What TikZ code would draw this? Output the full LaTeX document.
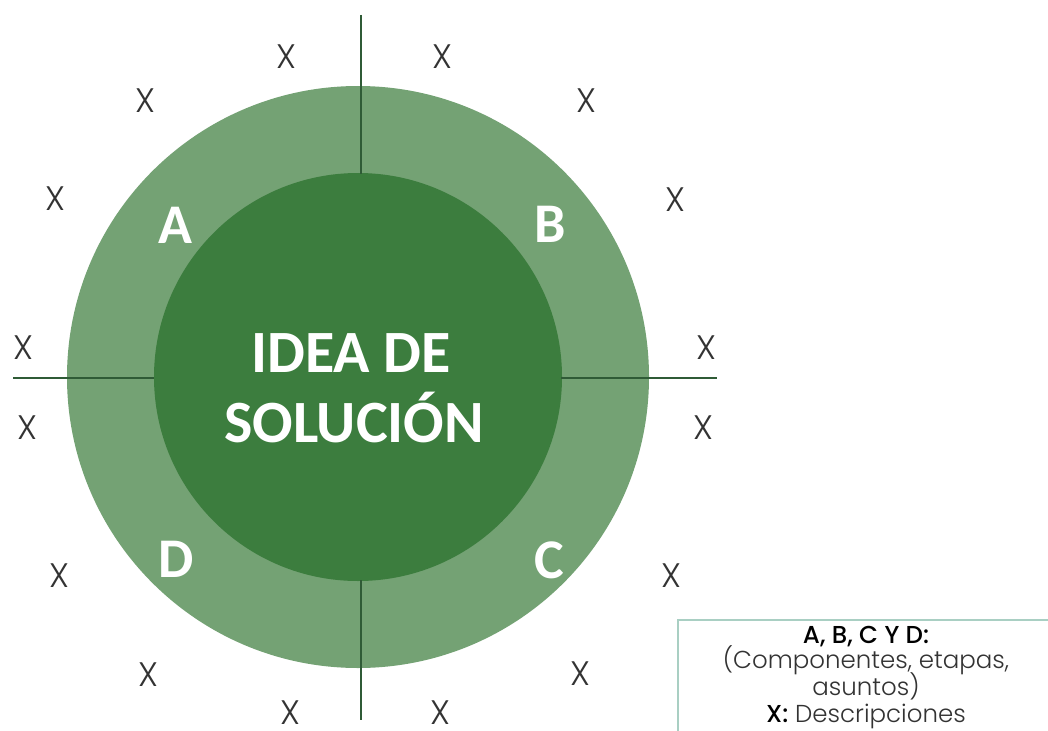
\documentclass[tikz,border=0pt]{standalone}
\usepackage{fontspec}
\setmainfont{Poppins}
\newfontfamily\carl{Carlito}
\newfontfamily\plight{Poppins Light}
\newfontfamily\pmed{Poppins Medium}
\definecolor{ring}{HTML}{74A274}
\definecolor{core}{HTML}{3C7D3E}
\definecolor{axis}{HTML}{2F5B36}
\definecolor{legendline}{HTML}{A9CFC3}
\definecolor{xcol}{HTML}{333333}
\tikzset{
  disc/.style={circle,inner sep=0pt,draw=none},
  axisline/.style={draw=axis,line width=1.6pt},
  xmark/.style={inner sep=0pt,text=xcol,font=\plight\fontsize{34}{34}\selectfont},
  seglabel/.style={inner sep=0pt,anchor=base,text=white,font=\carl\bfseries\fontsize{56}{60}\selectfont},
  titletext/.style={inner sep=0pt,anchor=base,text=white,font=\carl\bfseries\fontsize{60}{70}\selectfont},
  legtext/.style={inner sep=0pt,anchor=base,text=xcol,font=\plight\fontsize{24.5}{27}\selectfont},
}
\begin{document}
\begin{tikzpicture}[x=1pt,y=-1pt]
\useasboundingbox (0,0) rectangle (1048,730);
\node[disc,fill=ring,minimum size=582pt] (outer) at (358,377) {};
\node[disc,fill=core,minimum size=408pt] (inner) at (358,377) {};
% axes
\coordinate (top) at (361,15);
\coordinate (topin) at (361,174);
\coordinate (botin) at (361,580);
\coordinate (bot) at (361,720);
\coordinate (left) at (13,378);
\coordinate (leftin) at (154,378);
\coordinate (rightin) at (561,378);
\coordinate (right) at (717,378);
\draw[axisline] (top) -- (topin);
\draw[axisline] (botin) -- (bot);
\draw[axisline] (left) -- (leftin);
\draw[axisline] (rightin) -- (right);
% title
\node[titletext] (idea1) at (351,372) {IDEA DE};
\node[titletext] (idea2) at (354,442) {SOLUCIÓN};
% segment labels
\node[seglabel] (la) at (175,243) {A};
\node[seglabel] (lb) at (550,242) {B};
\node[seglabel] (lc) at (549,578) {C};
\node[seglabel] (ld) at (176,577) {D};
% X marks
\node[xmark] (x1) at (286,57) {X};
\node[xmark] (x2) at (442,57) {X};
\node[xmark] (x3) at (145,101) {X};
\node[xmark] (x4) at (586,101) {X};
\node[xmark] (x5) at (55,199) {X};
\node[xmark] (x6) at (675,200) {X};
\node[xmark] (x7) at (23,348) {X};
\node[xmark] (x8) at (706,348) {X};
\node[xmark] (x9) at (27,428) {X};
\node[xmark] (x10) at (703,428) {X};
\node[xmark] (x11) at (59,576) {X};
\node[xmark] (x12) at (671,576) {X};
\node[xmark] (x13) at (148,675) {X};
\node[xmark] (x14) at (580,674) {X};
\node[xmark] (x15) at (290,713) {X};
\node[xmark] (x16) at (440,713) {X};
% legend
\coordinate (lgtr) at (1052,620);
\coordinate (lgtl) at (678,620);
\coordinate (lgbl) at (678,740);
\draw[draw=legendline,line width=1.4pt] (lgtr) -- (lgtl) -- (lgbl);
\node[legtext,font=\pmed\fontsize{24.5}{27}\selectfont,text=black] (leg1) at (866,643) {A, B, C Y D:};
\node[legtext] (leg2) at (866,668) {(Componentes, etapas,};
\node[legtext] (leg3) at (866,695) {asuntos)};
\node[legtext] (leg4) at (866,722) {{\pmed\color{black}X:} Descripciones};
\end{tikzpicture}
\end{document}
